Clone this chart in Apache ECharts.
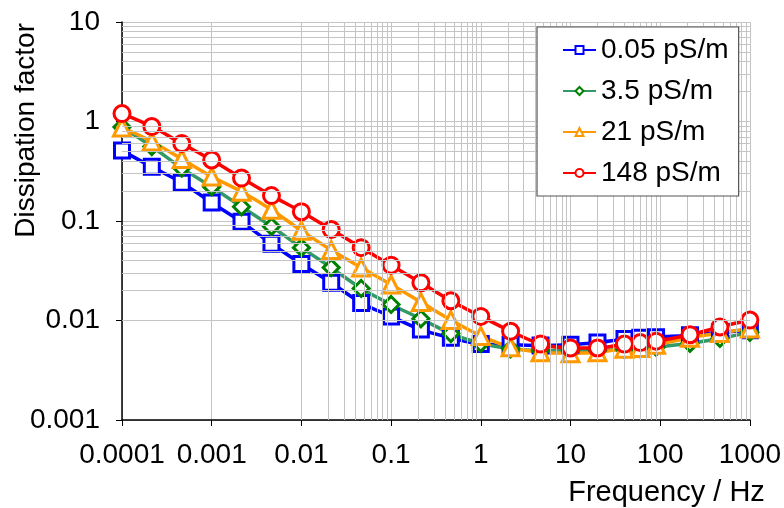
<!DOCTYPE html>
<html><head><meta charset="utf-8">
<script src="https://cdn.jsdelivr.net/npm/echarts@6/dist/echarts.min.js"></script>
<style>html,body{margin:0;padding:0;background:#fff}#c{width:784px;height:508px}</style>
</head><body><div id="c"></div>
<script>
const freq = [0.0001,0.000215,0.000464,0.001,0.00215,0.00464,0.01,0.0215,0.0464,0.1,0.215,0.464,1,2.15,4.64,10,20,40,60,90,215,464,1000];
const s005 = [0.51,0.35,0.243,0.153,0.098,0.059,0.037,0.024,0.015,0.011,0.0081,0.0067,0.0058,0.0057,0.0056,0.0057,0.0060,0.0065,0.0067,0.0068,0.0071,0.0076,0.0080];
const s35 = [0.88,0.56,0.34,0.22,0.139,0.088,0.054,0.034,0.021,0.0145,0.0104,0.0074,0.0059,0.0052,0.0050,0.0050,0.0050,0.0051,0.0052,0.0054,0.0059,0.0066,0.0076];
const s21 = [0.87,0.63,0.42,0.28,0.197,0.13,0.080,0.051,0.034,0.023,0.0153,0.0101,0.0070,0.0054,0.0048,0.0047,0.0048,0.0052,0.0053,0.0057,0.0067,0.0075,0.0083];
const s148 = [1.2,0.89,0.60,0.41,0.27,0.18,0.124,0.082,0.054,0.036,0.024,0.0158,0.011,0.0078,0.0058,0.0053,0.0053,0.0058,0.0060,0.0062,0.0072,0.0086,0.0101];
const seriesNames = ['0.05 pS/m','3.5 pS/m','21 pS/m','148 pS/m'];
const xTicks = ['0.0001','0.001','0.01','0.1','1','10','100','1000'];
const yTicks = ['0.001','0.01','0.1','1','10'];

const FONT = 'Liberation Sans, Arial, sans-serif';
const gridColor = '#c4c4c4';
const minorLines = [];
for (let k = -4; k <= 2; k++) for (let m = 2; m <= 9; m++) minorLines.push({xAxis: +(m*Math.pow(10,k)).toPrecision(3)});
for (let k = -3; k <= 0; k++) for (let m = 2; m <= 9; m++) minorLines.push({yAxis: +(m*Math.pow(10,k)).toPrecision(3)});

function mk(name, vals, symbol, size, lineColor, markColor) {
  return {
    name, type: 'line', z: 3,
    data: freq.map((f,i)=>[f, vals[i]]),
    symbol, symbolSize: size, showAllSymbol: true, smooth: 0.3,
    lineStyle: {color: lineColor, width: 3.5},
    itemStyle: {color: '#fff', borderColor: markColor, borderWidth: 3},
    emphasis: {disabled: true}
  };
}
const fmt = v => String(+(+v).toPrecision(1));
const chart = echarts.init(document.getElementById('c'), null, {renderer: 'canvas'});
chart.setOption({
  animation: false,
  backgroundColor: '#fff',
  grid: {left: 122, right: 30, top: 22, bottom: 88},
  xAxis: {
    type: 'log', logBase: 10, min: 0.0001, max: 1000,
    axisLine: {show: true, onZero: false, lineStyle: {color: '#000', width: 1.5}},
    axisTick: {show: true, inside: false, length: 6, lineStyle: {color: '#000'}},
    axisLabel: {margin: 21, fontSize: 28, fontFamily: FONT, color: '#000', formatter: fmt, showMinLabel: true, showMaxLabel: true},
    splitLine: {show: true, lineStyle: {color: gridColor, width: 1}},
    name: 'Frequency / Hz', nameLocation: 'end', nameGap: 15,
    nameTextStyle: {fontSize: 29, fontFamily: FONT, color: '#000', align: 'right', verticalAlign: 'top', padding: [58, 0, 0, 0]}
  },
  yAxis: {
    type: 'log', logBase: 10, min: 0.001, max: 10,
    axisLine: {show: true, onZero: false, lineStyle: {color: '#000', width: 1.5}},
    axisTick: {show: true, inside: false, length: 6, lineStyle: {color: '#000'}},
    axisLabel: {margin: 22, fontSize: 28, fontFamily: FONT, color: '#000', formatter: fmt},
    splitLine: {show: true, lineStyle: {color: gridColor, width: 1}}
  },
  legend: {
    data: seriesNames, orient: 'vertical', left: 537, top: 27,
    padding: [9, 10, 9, 25], itemGap: 13, itemWidth: 33, itemHeight: 10,
    backgroundColor: '#fff', borderColor: '#555', borderWidth: 1.2,
    textStyle: {fontSize: 28, fontFamily: FONT, color: '#000'}, z: 10
  },
  graphic: [{type: 'text', left: 12, top: 23, rotation: Math.PI/2,
    style: {text: 'Dissipation factor', font: '28px ' + FONT, fill: '#000'}}],
  series: [
    {name: 'grid', type: 'line', data: [], z: 1, silent: true,
     markLine: {silent: true, symbol: 'none', label: {show: false}, animation: false,
       lineStyle: {color: gridColor, width: 1, type: 'solid'}, emphasis: {disabled: true}, data: minorLines}},
    mk(seriesNames[0], s005, 'rect', 15, '#0000ff', '#0000ff'),
    mk(seriesNames[1], s35, 'diamond', 16, '#339966', '#008000'),
    mk(seriesNames[2], s21, 'triangle', 17, '#ff9900', '#ff9900'),
    mk(seriesNames[3], s148, 'circle', 16, '#ff0000', '#ff0000')
  ]
});
</script></body></html>
